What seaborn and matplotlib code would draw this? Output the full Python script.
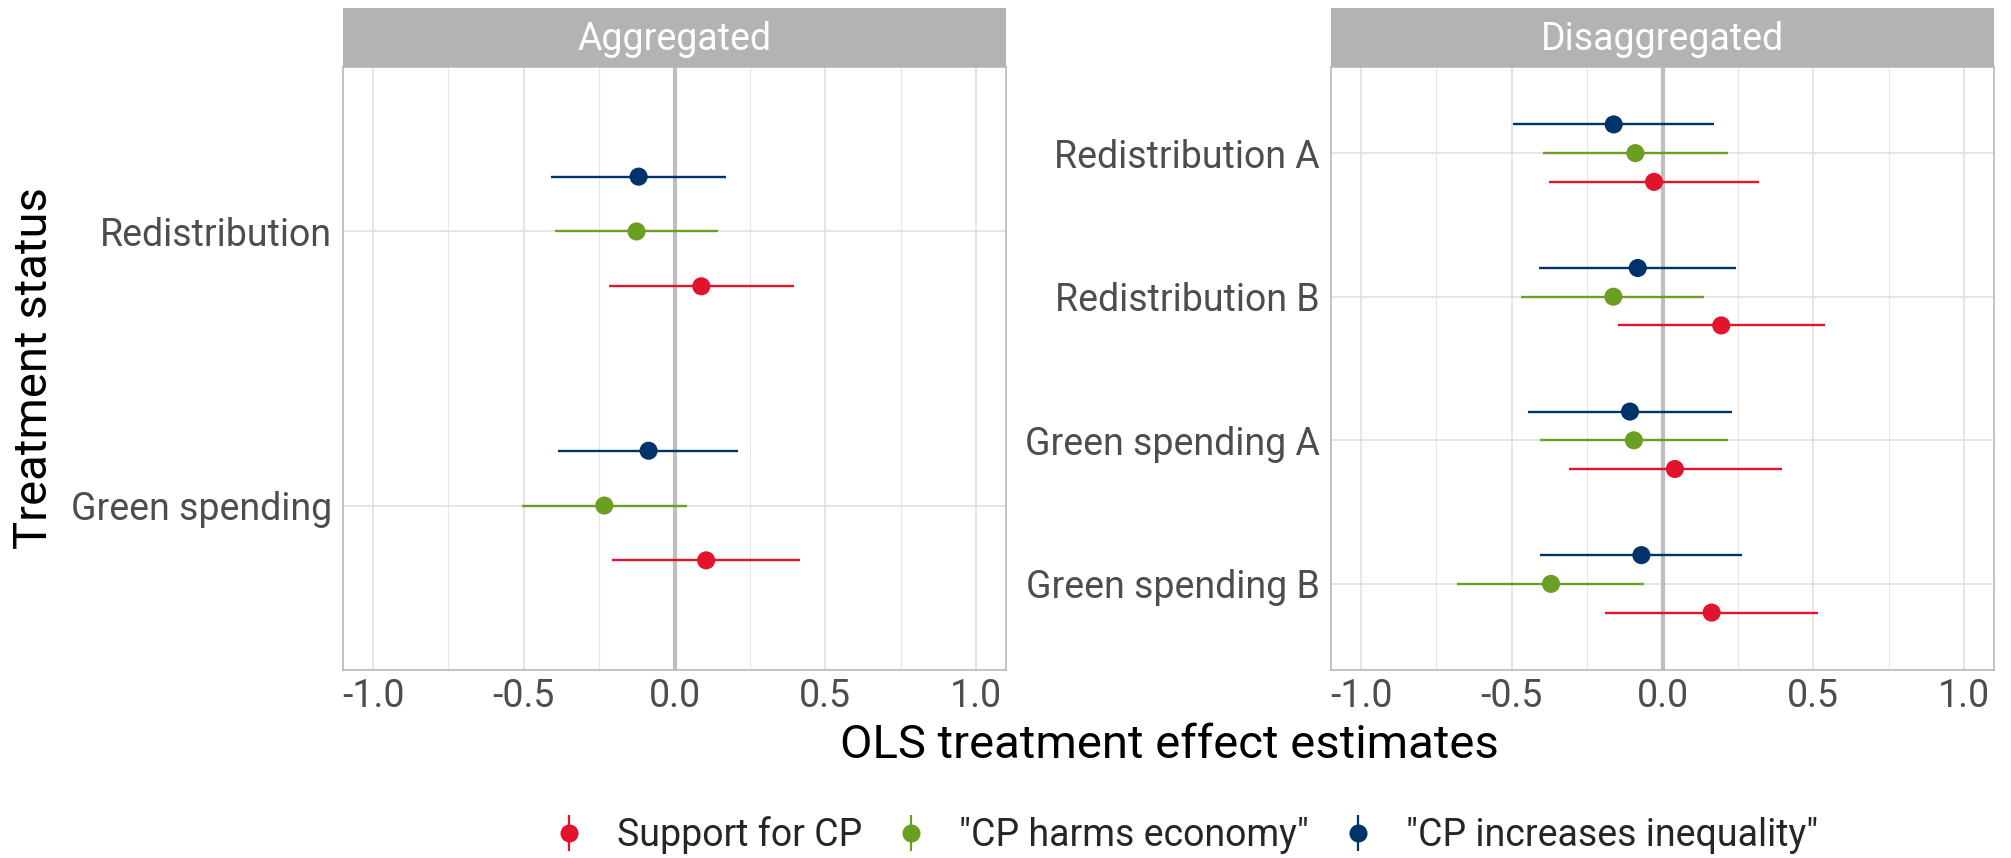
import numpy as np
import pandas as pd
import matplotlib
matplotlib.use("Agg")
import matplotlib.pyplot as plt
import seaborn as sns
from matplotlib.lines import Line2D
from matplotlib.legend_handler import HandlerTuple

# ---------------- data ----------------
outcomes = ["Support for CP", '"CP harms economy"', '"CP increases inequality"']
palette = ["#E3122D", "#6A9F22", "#00336A"]

agg_cats = ["Redistribution", "Green spending"]
agg_support_est = [0.089, 0.105]
agg_support_lo = [-0.218, -0.207]
agg_support_hi = [0.396, 0.416]
agg_harm_est = [-0.126, -0.233]
agg_harm_lo = [-0.396, -0.507]
agg_harm_hi = [0.145, 0.043]
agg_ineq_est = [-0.119, -0.086]
agg_ineq_lo = [-0.411, -0.386]
agg_ineq_hi = [0.172, 0.210]

dis_cats = ["Redistribution A", "Redistribution B", "Green spending A", "Green spending B"]
dis_support_est = [-0.028, 0.195, 0.041, 0.163]
dis_support_lo = [-0.378, -0.147, -0.310, -0.190]
dis_support_hi = [0.321, 0.539, 0.395, 0.515]
dis_harm_est = [-0.090, -0.163, -0.095, -0.370]
dis_harm_lo = [-0.398, -0.468, -0.405, -0.681]
dis_harm_hi = [0.217, 0.137, 0.217, -0.061]
dis_ineq_est = [-0.162, -0.082, -0.108, -0.070]
dis_ineq_lo = [-0.497, -0.410, -0.446, -0.407]
dis_ineq_hi = [0.172, 0.245, 0.229, 0.265]

x_ticks = [-1.0, -0.5, 0.0, 0.5, 1.0]
x_tick_labels = ["-1.0", "-0.5", "0.0", "0.5", "1.0"]
x_minor = [-0.75, -0.25, 0.25, 0.75]


def build(cats, series):
    rows = []
    n = len(cats)
    for oi, (name, (est, lo, hi)) in enumerate(zip(outcomes, series)):
        for ci, c in enumerate(cats):
            rows.append(dict(cat=c, outcome=name, est=est[ci], lo=lo[ci], hi=hi[ci],
                             pos=(n - ci) + (oi - 1) * 0.2))
    return pd.DataFrame(rows)


df_agg = build(agg_cats, [(agg_support_est, agg_support_lo, agg_support_hi),
                          (agg_harm_est, agg_harm_lo, agg_harm_hi),
                          (agg_ineq_est, agg_ineq_lo, agg_ineq_hi)])
df_dis = build(dis_cats, [(dis_support_est, dis_support_lo, dis_support_hi),
                          (dis_harm_est, dis_harm_lo, dis_harm_hi),
                          (dis_ineq_est, dis_ineq_lo, dis_ineq_hi)])

# ---------------- style ----------------
sns.set_theme(style="white")
plt.rcParams["font.family"] = ["Roboto", "DejaVu Sans"]
plt.rcParams["axes.unicode_minus"] = False

W, H = 2011, 858
fig = plt.figure(figsize=(W / 100, H / 100), dpi=100)
fig.patch.set_facecolor("white")

GRID = "#DEDEDE"
BORDER = "#B3B3B3"
TICKCOL = "#4D4D4D"
SMALL = 27
BIG = 34
cmap = dict(zip(outcomes, palette))


def panel(x0, x1, cats, df, title):
    top, bottom = 67, 670
    ax = fig.add_axes([x0 / W, 1 - bottom / H, (x1 - x0) / W, (bottom - top) / H])
    n = len(cats)
    for xv in x_minor:
        ax.axvline(xv, color="#E6E6E6", lw=0.8, zorder=0)
    for xv in x_ticks:
        ax.axvline(xv, color=GRID, lw=1.1, zorder=0)
    for yv in range(1, n + 1):
        ax.axhline(yv, color=GRID, lw=1.1, zorder=0)
    ax.axvline(0, color="#BEBEBE", lw=3.0, zorder=1)
    ax.hlines(df["pos"], df["lo"], df["hi"], colors=[cmap[o] for o in df["outcome"]],
              lw=1.7, zorder=2)
    sns.scatterplot(data=df, x="est", y="pos", hue="outcome", hue_order=outcomes,
                    palette=palette, s=170, linewidth=0, legend=False, ax=ax, zorder=3)
    ax.set_xlim(-1.1, 1.1)
    ax.set_ylim(0.4, n + 0.6)
    ax.set_xticks(x_ticks)
    ax.set_xticklabels(x_tick_labels)
    ax.set_yticks(list(range(n, 0, -1)))
    ax.set_yticklabels(cats)
    ax.set_xlabel("")
    ax.set_ylabel("")
    ax.tick_params(axis="both", which="major", length=5, width=1.0, color=BORDER,
                   labelsize=SMALL, labelcolor=TICKCOL)
    ax.tick_params(axis="x", pad=1)
    ax.tick_params(axis="y", pad=3)
    for s in ax.spines.values():
        s.set_visible(True)
        s.set_color(BORDER)
        s.set_linewidth(1.1)
    sax = fig.add_axes([x0 / W, 1 - top / H, (x1 - x0) / W, (top - 8) / H])
    sax.set_facecolor("#B3B3B3")
    sax.set_xticks([])
    sax.set_yticks([])
    for s in sax.spines.values():
        s.set_visible(False)
    sax.text(0.5, 0.47, title, color="white", fontsize=SMALL, ha="center", va="center",
             transform=sax.transAxes)
    return ax


panel(343, 1006, agg_cats, df_agg, "Aggregated")
panel(1331, 1994, dis_cats, df_dis, "Disaggregated")

fig.text(1169 / W, 1 - 745 / H, "OLS treatment effect estimates", fontsize=BIG,
         ha="center", va="center", color="black")
fig.text(34 / W, 1 - 368 / H, "Treatment status", fontsize=BIG, rotation=90,
         ha="center", va="center", color="black")

handles = []
for c in palette:
    vline = Line2D([], [], marker="|", ls="none", color=c, markersize=26, markeredgewidth=1.6)
    dot = Line2D([], [], marker="o", ls="none", color=c, markersize=13, markeredgewidth=0)
    handles.append((vline, dot))
leg = fig.legend(handles, outcomes, handler_map={tuple: HandlerTuple(ndivide=1)},
                 loc="center left", bbox_to_anchor=(554 / W, 1 - 835 / H), ncol=3,
                 frameon=False, borderpad=0, borderaxespad=0,
                 fontsize=SMALL, handlelength=0.8, handletextpad=0.88, columnspacing=0.9)

fig.savefig("out.png", dpi=100, facecolor="white")
